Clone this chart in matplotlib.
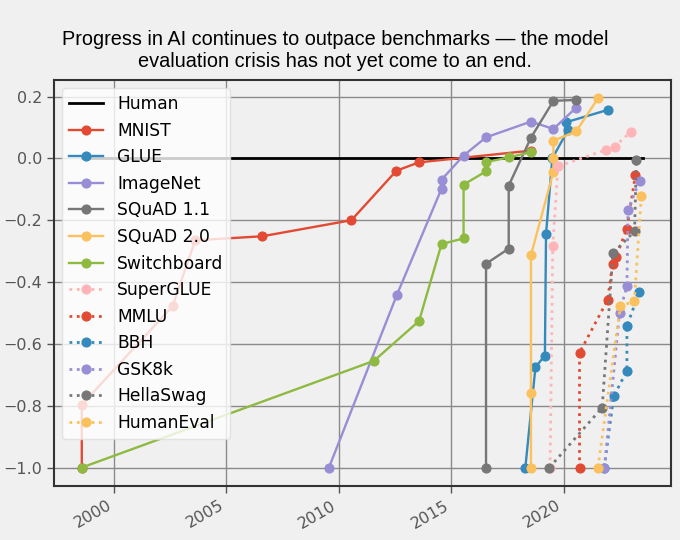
import matplotlib
matplotlib.use("Agg")
import matplotlib.pyplot as plt

# dates as decimal years, scores relative to human performance (0 = human)
human_x = [1998.56, 2023.54]
human_y = [0.0, 0.0]

mnist_x = [1998.56, 1998.56, 2002.60, 2003.61, 2006.59, 2010.56, 2012.56, 2013.56, 2018.55]
mnist_y = [-1.0, -0.797, -0.478, -0.265, -0.252, -0.200, -0.040, -0.013, 0.025]

glue_x = [2018.30, 2018.75, 2019.17, 2019.22, 2019.50, 2020.20, 2020.12, 2021.98]
glue_y = [-1.0, -0.675, -0.638, -0.245, 0.0, 0.092, 0.117, 0.157]

imagenet_x = [2009.56, 2012.58, 2014.57, 2014.57, 2015.55, 2016.55, 2018.55, 2019.55, 2020.56]
imagenet_y = [-1.0, -0.442, -0.098, -0.069, 0.009, 0.068, 0.119, 0.095, 0.164]

squad1_x = [2016.55, 2016.55, 2017.56, 2017.56, 2018.55, 2019.55, 2020.56]
squad1_y = [-1.0, -0.341, -0.292, -0.088, 0.067, 0.186, 0.189]

squad2_x = [2018.55, 2018.55, 2018.55, 2019.55, 2019.55, 2019.55, 2020.56, 2021.53]
squad2_y = [-1.0, -0.760, -0.313, -0.043, 0.0, 0.057, 0.087, 0.194]

switchboard_x = [1998.56, 2011.56, 2013.57, 2014.57, 2015.55, 2015.55, 2016.55, 2016.55, 2017.56, 2018.55]
switchboard_y = [-1.0, -0.655, -0.526, -0.277, -0.259, -0.085, -0.042, -0.012, 0.003, 0.020]

superglue_x = [2019.40, 2019.52, 2019.75, 2021.90, 2022.27, 2022.98]
superglue_y = [-1.0, -0.284, -0.026, 0.028, 0.038, 0.085]

mmlu_x = [2020.71, 2020.71, 2021.96, 2022.18, 2022.33, 2022.82, 2023.20]
mmlu_y = [-1.0, -0.629, -0.458, -0.343, -0.320, -0.227, -0.053]

bbh_x = [2021.81, 2022.23, 2022.82, 2022.82, 2023.38]
bbh_y = [-1.0, -0.770, -0.687, -0.542, -0.431]

gsk8k_x = [2021.82, 2022.49, 2022.82, 2022.87, 2023.39]
gsk8k_y = [-1.0, -0.499, -0.413, -0.166, -0.072]

hellaswag_x = [2019.37, 2021.72, 2022.20, 2023.16, 2023.24]
hellaswag_y = [-1.0, -0.806, -0.306, -0.236, -0.005]

humaneval_x = [2021.53, 2022.53, 2023.15, 2023.46]
humaneval_y = [-1.0, -0.478, -0.462, -0.123]

solid = [
    ("MNIST", mnist_x, mnist_y, "#E24A33"),
    ("GLUE", glue_x, glue_y, "#348ABD"),
    ("ImageNet", imagenet_x, imagenet_y, "#988ED5"),
    ("SQuAD 1.1", squad1_x, squad1_y, "#777777"),
    ("SQuAD 2.0", squad2_x, squad2_y, "#FBC15E"),
    ("Switchboard", switchboard_x, switchboard_y, "#8EBA42"),
]
dotted = [
    ("SuperGLUE", superglue_x, superglue_y, "#FFB5B8"),
    ("MMLU", mmlu_x, mmlu_y, "#E24A33"),
    ("BBH", bbh_x, bbh_y, "#348ABD"),
    ("GSK8k", gsk8k_x, gsk8k_y, "#988ED5"),
    ("HellaSwag", hellaswag_x, hellaswag_y, "#777777"),
    ("HumanEval", humaneval_x, humaneval_y, "#FBC15E"),
]

bg = "#f0f0f0"
fig = plt.figure(figsize=(6.8, 5.4), dpi=100, facecolor=bg)
ax = fig.add_axes([0.079, 0.10, 0.908, 0.752], facecolor=bg)

ax.plot(human_x, human_y, color="black", lw=2, label="Human")
for name, xs, ys, c in solid:
    ax.plot(xs, ys, "-o", color=c, lw=1.7, ms=6.3, label=name)
for name, xs, ys, c in dotted:
    ax.plot(xs, ys, ":o", color=c, lw=2, ms=6.3, label=name)

ax.set_xticks([2000, 2005, 2010, 2015, 2020])
ax.set_yticks([-1.0, -0.8, -0.6, -0.4, -0.2, 0.0, 0.2])
ax.set_yticklabels(["\u22121.0", "\u22120.8", "\u22120.6", "\u22120.4", "\u22120.2", "0.0", "0.2"])
ax.tick_params(axis="both", colors="#555555", labelsize=11.5, length=5, width=1)
for lab in ax.get_xticklabels():
    lab.set_rotation(30)
    lab.set_ha("right")
ax.grid(True, color="#8a8a8a", lw=1)
ax.set_axisbelow(True)
for s in ax.spines.values():
    s.set_color("#333333")
    s.set_linewidth(1.5)

leg = ax.legend(loc="upper left", fontsize=12.3, framealpha=0.8, fancybox=True,
                borderaxespad=0.5, handlelength=2.0)
leg.get_frame().set_edgecolor("#dddddd")

fig.text(0.493, 0.907,
         "Progress in AI continues to outpace benchmarks \u2014 the model\n"
         "evaluation crisis has not yet come to an end.",
         ha="center", va="center", fontsize=14.3, family="Liberation Sans",
         linespacing=1.2)

fig.savefig("out.png", dpi=100, facecolor=bg)
